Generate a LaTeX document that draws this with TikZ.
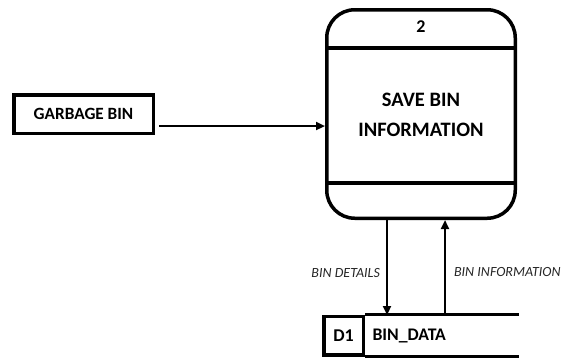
\documentclass[tikz,border=0pt]{standalone}
\usepackage{fontspec}
\setmainfont{Carlito}
\usetikzlibrary{arrows.meta}

\tikzset{
  flow/.style={draw, line width=2.2pt, -{Triangle[length=9pt,width=8pt]}},
  lbl/.style={font=\fontsize{14}{16}\selectfont\itshape, text=black!85, inner sep=2pt},
  heavy/.style={line width=3.5pt},
}

\begin{document}
\begin{tikzpicture}[x=1pt,y=-1pt]
  \useasboundingbox (0,0) rectangle (565,360);

  % external entity
  \node[draw, heavy, minimum width=139.5pt, minimum height=38.5pt,
        font=\fontsize{17.2}{20}\selectfont\bfseries] (bin) at (83.5,114) {GARBAGE BIN};

  % process 2
  \node[draw, heavy, rounded corners=28pt, minimum width=188.5pt,
        minimum height=208.5pt] (proc) at (421,114) {};
  \draw[heavy] (proc.west |- 0,48) -- (proc.east |- 0,48);
  \draw[heavy] (proc.west |- 0,183) -- (proc.east |- 0,183);
  \node[font=\fontsize{18}{20}\selectfont\bfseries] (pnum) at (421,27) {2};
  \node[font=\fontsize{20.5}{30}\selectfont\bfseries, align=center] (pname) at (421,115)
    {SAVE BIN\\INFORMATION};

  % data store D1
  \node[draw, heavy, minimum width=39.5pt, minimum height=38.5pt,
        font=\fontsize{18}{20}\selectfont\bfseries] (d1) at (343.5,335.5) {D1};
  \node[anchor=west, font=\fontsize{17.7}{20}\selectfont\bfseries] (bdata)
    at ([xshift=4pt]d1.east) {BIN\_DATA};
  \coordinate (send) at (519,0);
  \draw[heavy] (d1.north east) -- (d1.north east -| send);
  \draw[heavy] (d1.south east) -- (d1.south east -| send);

  % flows
  \coordinate (gin) at ([xshift=4pt,yshift=-12pt]bin.east);
  \coordinate (dtop) at (387,315);
  \coordinate (itop) at (445,315);
  \path (gin) edge[flow] (gin -| proc.west);
  \path (dtop |- proc.south) edge[flow] node[lbl, left, pos=0.56, xshift=-4pt] {BIN DETAILS} (dtop);
  \path (itop) edge[flow] node[lbl, right, pos=0.45, xshift=6pt] {BIN INFORMATION} (itop |- proc.south);

\end{tikzpicture}
\end{document}
